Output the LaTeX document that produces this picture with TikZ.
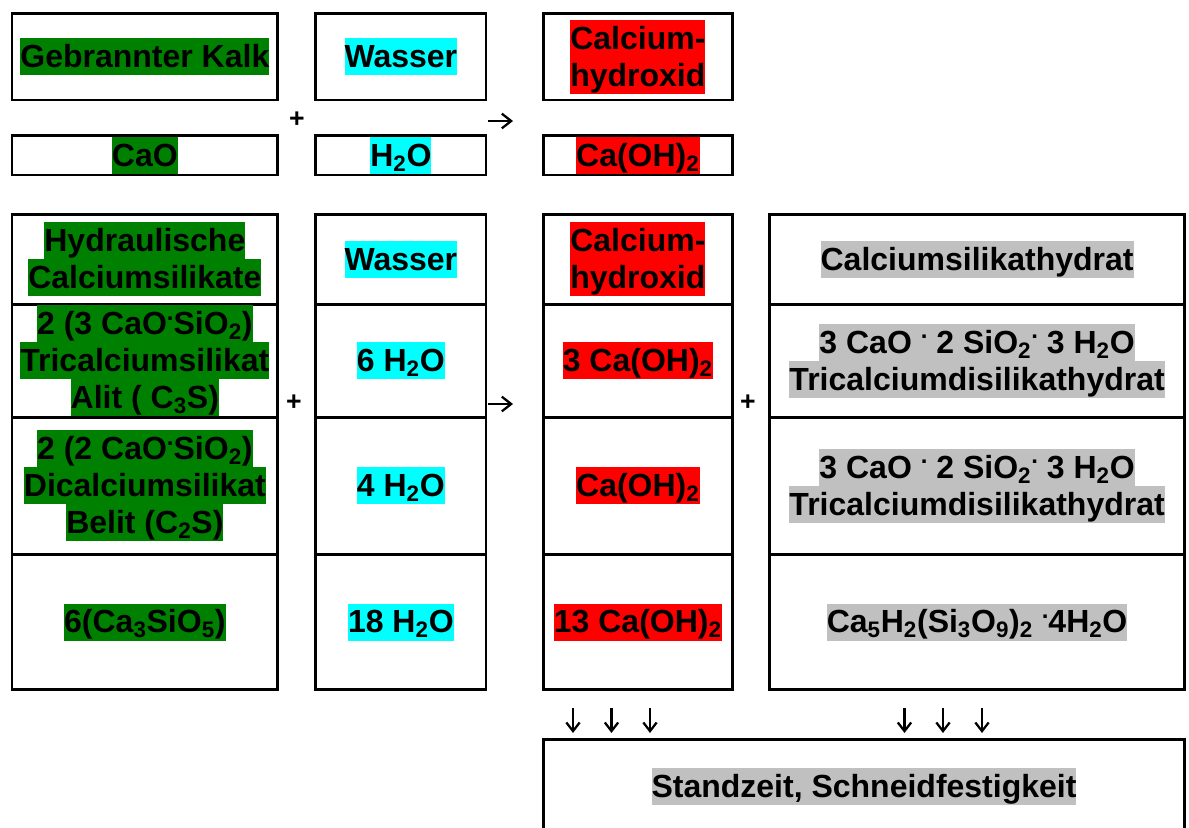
\documentclass[tikz,border=0pt]{standalone}
\usepackage{fontspec}
\setmainfont{Liberation Sans}
\usetikzlibrary{arrows.meta}
\setlength\fboxsep{0pt}
\lineskiplimit=-10pt
\definecolor{hlgreen}{RGB}{0,128,0}
\definecolor{hlcyan}{RGB}{0,255,255}
\definecolor{hlred}{RGB}{255,0,0}
\definecolor{hlgray}{RGB}{192,192,192}
\newcommand\hl[2]{\colorbox{#1}{\rule[-5.75pt]{0pt}{27.75pt}#2}}
\newcommand\sub[1]{\textsubscript{#1}}
\newcommand\hdot{\raisebox{10.8pt}{\fontsize{18}{18}\selectfont.}}
\tikzset{
  cell/.style={draw, line width=2pt, inner sep=0pt, align=center,
    font=\fontsize{24}{27.75}\selectfont\bfseries},
  opsign/.style={inner sep=0pt, font=\fontsize{20}{20}\selectfont\bfseries},
  harrow/.style={line width=1.7pt, -{Straight Barb[length=7pt,width=11pt]}},
  varrow/.style={line width=1.7pt, -{Straight Barb[length=6.5pt,width=10pt]}}
}
\newcommand\cell[6]{\node[cell, minimum width={0.75pt*(#4-#2)}, minimum height={0.75pt*(#5-#3)}] (#1) at ({(#2+#4)/2},{(#3+#5)/2}) {#6};}
\begin{document}
\begin{tikzpicture}[x=0.75pt,y=-0.75pt]
\useasboundingbox (0,0) rectangle (1189,828);
% top rows
\cell{gk}{11.9}{13.7}{277.8}{100}{\hl{hlgreen}{Gebrannter Kalk}}
\cell{wa}{315.7}{13.7}{486}{100}{\hl{hlcyan}{Wasser}}
\cell{chA}{543.2}{13.7}{732.5}{100}{\hl{hlred}{Calcium-}\\\hl{hlred}{hydroxid}}
\cell{cao}{11.9}{135.5}{277.8}{175}{\hl{hlgreen}{CaO}}
\cell{hto}{315.7}{135.5}{486}{175}{\hl{hlcyan}{H\sub{2}O}}
\cell{coh}{543.2}{135.5}{732.5}{175}{\hl{hlred}{Ca(OH)\sub{2}}}
\node[opsign] (pA) at (297,120) {+};
\coordinate (rA1) at (488,121); \coordinate (rA2) at (513,121);
\draw[harrow] (rA1) -- (rA2);
% table row 1
\cell{t11}{11.9}{214.3}{277.8}{304.3}{\hl{hlgreen}{Hydraulische}\\\hl{hlgreen}{Calciumsilikate}}
\cell{t12}{315.7}{214.3}{486}{304.3}{\hl{hlcyan}{Wasser}}
\cell{t13}{543.2}{214.3}{732.5}{304.3}{\hl{hlred}{Calcium-}\\\hl{hlred}{hydroxid}}
\cell{t14}{769.4}{214.3}{1184.8}{304.3}{\hl{hlgray}{Calciumsilikathydrat}}
% table row 2
\cell{t21}{11.9}{304.3}{277.8}{417.2}{\hl{hlgreen}{2 (3 CaO\hdot SiO\sub{2})}\\\hl{hlgreen}{Tricalciumsilikat}\\\hl{hlgreen}{Alit ( C\sub{3}S)}}
\cell{t22}{315.7}{304.3}{486}{417.2}{\hl{hlcyan}{6 H\sub{2}O}}
\cell{t23}{543.2}{304.3}{732.5}{417.2}{\hl{hlred}{3 Ca(OH)\sub{2}}}
\cell{t24}{769.4}{304.3}{1184.8}{417.2}{\hl{hlgray}{3 CaO \hdot\ 2 SiO\sub{2}\hdot\ 3 H\sub{2}O}\\\hl{hlgray}{Tricalciumdisilikathydrat}}
% table row 3
\cell{t31}{11.9}{417.2}{277.8}{554.2}{\hl{hlgreen}{2 (2 CaO\hdot SiO\sub{2})}\\\hl{hlgreen}{Dicalciumsilikat}\\\hl{hlgreen}{Belit (C\sub{2}S)}}
\cell{t32}{315.7}{417.2}{486}{554.2}{\hl{hlcyan}{4 H\sub{2}O}}
\cell{t33}{543.2}{417.2}{732.5}{554.2}{\hl{hlred}{Ca(OH)\sub{2}}}
\cell{t34}{769.4}{417.2}{1184.8}{554.2}{\hl{hlgray}{3 CaO \hdot\ 2 SiO\sub{2}\hdot\ 3 H\sub{2}O}\\\hl{hlgray}{Tricalciumdisilikathydrat}}
% table row 4
\cell{t41}{11.9}{554.2}{277.8}{689.8}{\hl{hlgreen}{6(Ca\sub{3}SiO\sub{5})}}
\cell{t42}{315.7}{554.2}{486}{689.8}{\hl{hlcyan}{18 H\sub{2}O}}
\cell{t43}{543.2}{554.2}{732.5}{689.8}{\hl{hlred}{13 Ca(OH)\sub{2}}}
\cell{t44}{769.4}{554.2}{1184.8}{689.8}{\hl{hlgray}{Ca\sub{5}H\sub{2}(Si\sub{3}O\sub{9})\sub{2} \hdot 4H\sub{2}O}}
\node[opsign] (pB) at (294,403) {+};
\coordinate (rB1) at (488,404); \coordinate (rB2) at (513,404);
\draw[harrow] (rB1) -- (rB2);
\node[opsign] (pC) at (748,403) {+};
% result box
\cell{res}{543.2}{739.8}{1184.8}{834}{\hl{hlgray}{Standzeit, Schneidfestigkeit}}
% down arrows
\foreach \i/\x in {1/573,2/611.5,3/650,4/904.5,5/943,6/982}{
  \coordinate (da\i) at (\x,708);
  \coordinate (db\i) at (\x,733);
  \draw[varrow] (da\i) -- (db\i);
}
\end{tikzpicture}
\end{document}
